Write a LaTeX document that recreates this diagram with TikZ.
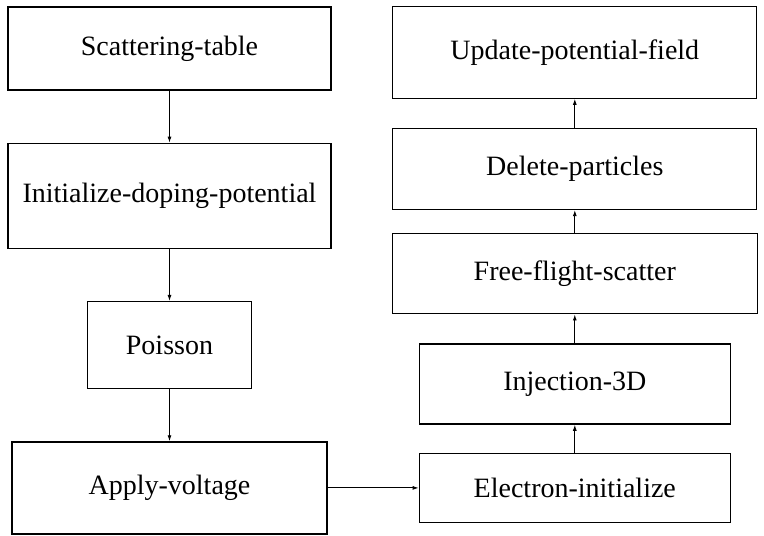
\documentclass[tikz,border=0pt]{standalone}
\usepackage{fontspec}
\setmainfont{Liberation Serif}
\usetikzlibrary{arrows.meta,positioning}

\begin{document}
\begin{tikzpicture}[x=1pt,y=-1pt,node distance=52pt]
      \useasboundingbox (0,0) rectangle (764,536);
      \begin{scope}[every node/.style={rectangle,draw,line width=1.3pt,
          inner sep=0pt,font=\fontsize{28}{33}\selectfont}]
        \node[minimum width=323pt,minimum height=83pt] (scat) at (169.5,48.5) {Scattering-table};
        \node[minimum width=323pt,minimum height=105pt] (init) [below=of scat] {Initialize-doping-potential};
        \node[minimum width=164pt,minimum height=87pt] (pois) [below=of init] {Poisson};
        \node[minimum width=315pt,minimum height=92pt] (volt) [below=of pois] {Apply-voltage};
        \node[minimum width=311pt,minimum height=69pt] (elec) [right=91pt of volt] {Electron-initialize};
        \node[minimum width=311pt,minimum height=80pt] (inj) [above=28pt of elec] {Injection-3D};
        \node[minimum width=365pt,minimum height=80pt] (flight) [above=29pt of inj] {Free-flight-scatter};
        \node[minimum width=364pt,minimum height=81pt] (del) [above=23pt of flight] {Delete-particles};
        \node[minimum width=364pt,minimum height=92pt] (upd) [above=29pt of del] {Update-potential-field};
      \end{scope}
      \begin{scope}
        [every edge/.style={draw=black,line width=0.9pt,-{Latex[length=6pt,width=4pt]}}]
        \path (scat) edge (init);
        \path (init) edge (pois);
        \path (pois) edge (volt);
        \path (volt) edge (elec);
        \path (elec) edge (inj);
        \path (inj) edge (flight);
        \path (flight) edge (del);
        \path (del) edge (upd);
      \end{scope}
    \end{tikzpicture}
\end{document}
